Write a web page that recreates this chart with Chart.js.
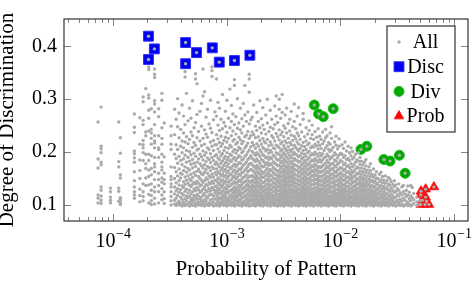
<!DOCTYPE html>
<html>
<head>
<meta charset="utf-8">
<script src="https://cdn.jsdelivr.net/npm/chart.js@4.4.1/dist/chart.umd.min.js"></script>
<style>
  html, body { margin: 0; padding: 0; background: #fff; }
  #wrap { width: 476px; height: 284px; }
</style>
</head>
<body>
<div id="wrap"><canvas id="chart" width="476" height="284"></canvas></div>
<script>
// ticks
const xTickExps = [-4, -3, -2, -1];
const yTicks = [0.1, 0.2, 0.3, 0.4];

// selected patterns
const discP = [2.05e-4, 2.31e-4, 2.05e-4, 4.35e-4, 4.35e-4, 5.43e-4, 7.47e-4, 8.6e-4, 1.17e-3, 1.6e-3];
const discD = [0.419, 0.395, 0.375, 0.407, 0.367, 0.388, 0.397, 0.370, 0.373, 0.383];
const divP = [5.9e-3, 6.44e-3, 7.08e-3, 8.66e-3, 1.518e-2, 1.712e-2, 2.415e-2, 2.742e-2, 3.31e-2, 3.72e-2];
const divD = [0.289, 0.272, 0.267, 0.282, 0.205, 0.211, 0.186, 0.183, 0.194, 0.160];
const probP = [0.0513, 0.0564, 0.0510, 0.0564, 0.0527, 0.0575, 0.0510, 0.0556, 0.0603, 0.0667];
const probD = [0.126, 0.130, 0.119, 0.115, 0.109, 0.107, 0.101, 0.101, 0.101, 0.134];

// all patterns, read column by column: [probability, [degrees...]]
const allColumns = [
  [7.38e-5, [.104,.113,.119,.170,.187,.257]],
  [7.85e-5, [.103,.109,.117,.128,.134,.176,.181,.199,.206,.211,.285]],
  [9.49e-5, [.104,.109,.115,.125,.132]],
  [1.122e-4, [.107,.126,.132,.172,.182,.257]],
  [1.16e-4, [.101,.104,.109,.113,.114,.151,.157,.198,.227]],
  [1.54e-4, [.113,.119,.125,.134,.146,.163,.181,.189,.197,.202,.237,.247,.272]],
  [1.72e-4, [.106,.118,.130,.150,.165,.185,.215,.265]],
  [1.84e-4, [.108,.116,.125,.140,.184,.199,.208,.214,.222,.252,.260,.295,.304]],
  [1.94e-4, [.137,.151,.169,.178,.196,.231,.238,.320]],
  [2.06e-4, [.104,.120,.138,.154,.166,.184,.196,.240,.264,.279,.302,.308,.356,.361]],
  [2.17e-4, [.101,.108,.118,.128,.140,.157,.169,.193,.215,.226,.236,.243,.282]],
  [2.32e-4, [.102,.113,.125,.134,.148,.163,.172,.178,.190,.208,.217,.221,.231,.252,.276,.291,.297,.341,.347,.357]],
  [2.52e-4, [.104,.125,.137,.148,.160,.190,.205,.208,.231,.267,.282]],
  [2.69e-4, [.110,.119,.131,.143,.151,.166,.172,.181,.196,.215,.226,.246,.298,.311]],
  [2.82e-4, [.103,.112,.125,.140,.148,.160,.191,.255]],
  [3.24e-4, [.100,.108,.116,.125,.134,.140,.148,.154,.172,.205,.215,.231,.249]],
  [3.48e-4, [.102,.109,.121,.134,.150,.171,.196,.233,.281]],
  [3.59e-4, [.099,.113,.127,.142,.163,.188,.214,.262]],
  [3.70e-4, [.104,.118,.131,.155,.179,.205,.248,.301]],
  [3.81e-4, [.100,.107,.124,.138,.146,.168,.192,.227,.274]],
  [3.93e-4, [.103,.115,.129,.151,.160,.184,.211,.243]],
  [4.05e-4, [.098,.111,.122,.136,.158,.176,.199,.221,.289]],
  [4.17e-4, [.101,.106,.119,.133,.144,.165,.187,.208,.236,.268]],
  [4.30e-4, [.099,.112,.126,.139,.153,.172,.194,.219,.252,.342,.352]],
  [4.43e-4, [.102,.108,.117,.130,.147,.162,.181,.203,.229,.311]],
  [4.57e-4, [.100,.114,.123,.141,.155,.169,.190,.216,.259]],
  [4.71e-4, [.098,.105,.116,.128,.137,.149,.166,.183,.201,.224,.283]],
  [4.85e-4, [.103,.110,.121,.135,.146,.158,.177,.195,.238,.264]],
  [5.00e-4, [.099,.107,.113,.125,.139,.152,.170,.186,.209,.231,.297]],
  [5.16e-4, [.101,.109,.118,.131,.143,.161,.179,.198,.218,.246]],
  [5.32e-4, [.098,.104,.115,.127,.140,.156,.173,.192,.213,.256,.338,.348]],
  [5.48e-4, [.102,.111,.120,.133,.145,.164,.181,.204,.227,.271,.329]],
  [5.65e-4, [.100,.106,.117,.129,.141,.154,.168,.187,.206,.239]],
  [5.82e-4, [.103,.112,.124,.136,.150,.163,.178,.196,.221,.277]],
  [6.00e-4, [.099,.108,.115,.126,.138,.147,.159,.174,.191,.212,.249,.292]],
  [6.19e-4, [.101,.105,.119,.130,.143,.157,.170,.185,.202,.226,.306,.357]],
  [6.38e-4, [.098,.110,.122,.134,.146,.162,.176,.194,.215,.242,.314]],
  [6.58e-4, [.102,.107,.116,.128,.139,.151,.167,.182,.199,.234,.266]],
  [6.78e-4, [.100,.113,.125,.137,.148,.160,.173,.189,.208,.228,.281]],
  [6.99e-4, [.099,.104,.118,.131,.142,.155,.171,.186,.205,.253]],
  [7.20e-4, [.101,.109,.121,.127,.140,.152,.165,.180,.197,.219,.245,.298]],
  [7.42e-4, [.103,.111,.120,.133,.145,.158,.172,.190,.211,.237,.343,.354,.361]],
  [7.65e-4, [.098,.106,.117,.129,.141,.153,.169,.184,.203,.222,.261]],
  [7.89e-4, [.100,.112,.124,.135,.147,.161,.177,.193,.214,.276]],
  [8.13e-4, [.099,.103,.110,.119,.128,.136,.146,.157,.168,.181,.195,.214,.233,.268,.338]],
  [8.38e-4, [.101,.107,.115,.124,.132,.142,.151,.163,.176,.189,.206,.225,.251,.294]],
  [8.64e-4, [.098,.104,.112,.121,.129,.139,.149,.160,.172,.186,.200,.218,.241,.283]],
  [8.91e-4, [.100,.106,.114,.123,.134,.144,.155,.166,.179,.193,.211,.230,.262]],
  [9.18e-4, [.102,.109,.117,.126,.137,.147,.158,.170,.183,.197,.216,.244,.309]],
  [9.46e-4, [.099,.105,.113,.120,.131,.141,.153,.164,.175,.188,.203,.222,.256]],
  [9.75e-4, [.101,.108,.116,.125,.133,.145,.156,.167,.180,.192,.209,.228,.249,.277]],
  [1.005e-3, [.098,.103,.111,.122,.130,.138,.150,.161,.173,.185,.199,.219,.237,.298]],
  [1.036e-3, [.100,.107,.114,.124,.135,.143,.154,.165,.178,.190,.207,.226,.264]],
  [1.068e-3, [.102,.109,.118,.127,.136,.146,.159,.171,.184,.196,.213,.246,.319]],
  [1.10e-3, [.099,.104,.112,.119,.128,.139,.148,.157,.169,.182,.194,.210,.231,.258,.288]],
  [1.134e-3, [.101,.106,.115,.123,.131,.141,.152,.163,.174,.187,.201,.221,.240,.272]],
  [1.17e-3, [.098,.103,.110,.117,.126,.134,.144,.155,.166,.177,.190,.205,.224,.252,.326,.337]],
  [1.205e-3, [.100,.108,.114,.122,.130,.140,.150,.160,.172,.184,.198,.215,.234,.267]],
  [1.243e-3, [.102,.107,.116,.125,.133,.143,.153,.164,.176,.189,.203,.218,.245,.301]],
  [1.281e-3, [.099,.105,.111,.120,.129,.137,.147,.158,.168,.180,.193,.209,.228,.255]],
  [1.32e-3, [.101,.109,.118,.124,.135,.145,.156,.167,.179,.191,.206,.223,.242,.283]],
  [1.36e-3, [.098,.104,.113,.121,.130,.139,.149,.161,.171,.185,.199,.216,.236,.263]],
  [1.40e-3, [.100,.106,.115,.123,.132,.142,.152,.162,.175,.187,.202,.220,.249,.292]],
  [1.445e-3, [.102,.108,.117,.126,.134,.144,.154,.166,.178,.192,.208,.229,.270,.326]],
  [1.49e-3, [.099,.103,.112,.119,.128,.137,.146,.157,.169,.181,.195,.212,.232,.258]],
  [1.535e-3, [.101,.107,.114,.122,.131,.140,.151,.163,.173,.186,.200,.217,.239,.276]],
  [1.58e-3, [.098,.105,.111,.120,.127,.136,.145,.155,.165,.177,.189,.204,.226,.253,.313,.338,.347]],
  [1.63e-3, [.100,.108,.116,.125,.133,.143,.154,.167,.179,.193,.210,.231,.261]],
  [1.68e-3, [.099,.102,.109,.115,.122,.130,.138,.147,.156,.166,.176,.188,.201,.218,.238,.266]],
  [1.73e-3, [.101,.106,.112,.119,.127,.135,.144,.153,.163,.173,.185,.198,.213,.233,.289]],
  [1.79e-3, [.098,.104,.110,.117,.124,.132,.141,.150,.159,.170,.182,.194,.207,.227,.249]],
  [1.84e-3, [.100,.107,.113,.121,.128,.137,.146,.155,.165,.175,.187,.199,.216,.241,.275]],
  [1.90e-3, [.102,.105,.111,.118,.126,.134,.142,.151,.161,.171,.183,.196,.211,.229,.258]],
  [1.96e-3, [.099,.103,.109,.116,.123,.131,.139,.149,.158,.168,.179,.192,.204,.222,.246,.297]],
  [2.02e-3, [.101,.108,.114,.120,.129,.136,.145,.154,.164,.174,.186,.200,.215,.236,.263]],
  [2.08e-3, [.098,.104,.110,.117,.125,.133,.142,.152,.160,.172,.184,.195,.209,.226,.251,.284]],
  [2.14e-3, [.100,.106,.112,.119,.127,.135,.143,.153,.162,.173,.181,.193,.206,.220,.243]],
  [2.21e-3, [.102,.107,.115,.122,.130,.138,.147,.156,.166,.177,.189,.202,.217,.234,.270]],
  [2.28e-3, [.099,.103,.111,.118,.124,.132,.140,.149,.159,.169,.180,.191,.205,.224,.255,.300]],
  [2.35e-3, [.101,.105,.113,.120,.128,.136,.145,.154,.163,.175,.186,.198,.212,.239]],
  [2.42e-3, [.098,.104,.109,.116,.123,.131,.139,.148,.157,.167,.178,.190,.203,.219,.247,.279]],
  [2.49e-3, [.100,.107,.114,.121,.129,.137,.146,.155,.165,.176,.188,.200,.214,.231,.262]],
  [2.57e-3, [.102,.106,.112,.118,.126,.134,.142,.151,.161,.171,.182,.194,.208,.227,.244]],
  [2.65e-3, [.099,.103,.110,.117,.125,.133,.141,.150,.158,.168,.179,.192,.206,.221,.252,.287]],
  [2.73e-3, [.101,.108,.115,.122,.130,.138,.147,.157,.166,.177,.187,.199,.213,.235,.268,.306]],
  [2.81e-3, [.098,.104,.111,.119,.127,.135,.144,.153,.163,.174,.185,.197,.211,.229,.256]],
  [2.90e-3, [.100,.103,.108,.114,.120,.127,.134,.141,.149,.157,.166,.175,.185,.196,.208,.223,.242,.281,.300]],
  [2.99e-3, [.099,.105,.111,.117,.123,.130,.137,.145,.153,.161,.170,.180,.190,.202,.216,.233,.264]],
  [3.08e-3, [.101,.106,.112,.118,.125,.132,.139,.147,.155,.164,.173,.183,.194,.205,.219,.238,.275,.309]],
  [3.18e-3, [.098,.104,.109,.115,.121,.128,.136,.143,.151,.160,.168,.178,.188,.199,.212,.229,.250]],
  [3.27e-3, [.100,.107,.113,.119,.126,.133,.140,.148,.156,.165,.174,.184,.195,.207,.221,.245,.270]],
  [3.37e-3, [.102,.105,.110,.116,.122,.129,.137,.144,.152,.162,.171,.181,.191,.203,.217,.236,.283]],
  [3.48e-3, [.099,.103,.108,.114,.121,.127,.135,.142,.150,.158,.167,.176,.187,.198,.210,.226,.254]],
  [3.59e-3, [.101,.106,.112,.118,.124,.131,.138,.146,.154,.163,.172,.182,.193,.204,.218,.240,.262]],
  [3.70e-3, [.098,.104,.109,.115,.122,.129,.136,.144,.152,.160,.169,.179,.189,.201,.214,.232,.277]],
  [3.81e-3, [.100,.107,.111,.117,.124,.130,.139,.147,.155,.164,.173,.183,.195,.206,.222,.248]],
  [3.93e-3, [.102,.105,.110,.116,.123,.128,.135,.143,.151,.159,.168,.177,.188,.199,.213,.230,.258,.291]],
  [4.05e-3, [.099,.103,.108,.114,.120,.127,.134,.141,.149,.157,.166,.175,.185,.196,.209,.225,.244]],
  [4.17e-3, [.101,.106,.112,.118,.125,.132,.140,.148,.156,.165,.174,.184,.194,.205,.219,.236,.268]],
  [4.30e-3, [.098,.104,.109,.115,.121,.129,.137,.145,.153,.161,.170,.181,.191,.202,.215,.231,.284]],
  [4.43e-3, [.100,.105,.111,.117,.123,.130,.138,.146,.154,.163,.172,.182,.193,.207,.224,.252]],
  [4.57e-3, [.102,.107,.113,.119,.126,.133,.141,.149,.158,.167,.176,.187,.198,.212,.238]],
  [4.71e-3, [.099,.103,.108,.114,.121,.128,.135,.143,.151,.160,.169,.179,.190,.203,.218,.262,.273]],
  [4.85e-3, [.101,.106,.112,.118,.124,.131,.139,.147,.155,.164,.174,.184,.196,.210,.229]],
  [5.00e-3, [.098,.104,.110,.116,.122,.129,.136,.144,.152,.161,.170,.180,.192,.205,.221,.246]],
  [5.16e-3, [.100,.105,.111,.117,.125,.132,.140,.148,.157,.166,.175,.186,.199,.214,.234]],
  [5.32e-3, [.102,.107,.113,.120,.127,.134,.142,.150,.159,.168,.178,.189,.201,.217,.241,.259]],
  [5.48e-3, [.099,.103,.109,.115,.122,.129,.137,.145,.153,.162,.171,.182,.194,.208,.226]],
  [5.65e-3, [.101,.106,.112,.118,.124,.131,.139,.147,.156,.165,.175,.185,.197,.211,.233,.251]],
  [5.82e-3, [.098,.104,.110,.116,.123,.130,.138,.146,.154,.163,.172,.183,.195,.209,.224]],
  [6.00e-3, [.100,.105,.111,.119,.126,.133,.141,.149,.158,.167,.177,.188,.200,.215,.239]],
  [6.19e-3, [.102,.107,.113,.117,.124,.132,.140,.148,.156,.165,.174,.184,.196,.212,.228]],
  [6.38e-3, [.099,.103,.108,.115,.121,.128,.136,.144,.152,.161,.170,.181,.192,.206,.219,.244]],
  [6.58e-3, [.101,.106,.112,.118,.125,.131,.139,.147,.155,.164,.173,.186,.198,.213,.230]],
  [6.78e-3, [.098,.104,.109,.116,.122,.129,.137,.145,.153,.162,.171,.181,.193,.207,.224]],
  [6.99e-3, [.100,.105,.111,.117,.124,.131,.138,.146,.155,.164,.174,.185,.197,.216,.238]],
  [7.20e-3, [.102,.107,.113,.119,.126,.133,.141,.149,.157,.166,.176,.189,.203,.221]],
  [7.42e-3, [.099,.103,.108,.115,.121,.128,.135,.143,.151,.160,.169,.179,.191,.208,.227,.243]],
  [7.65e-3, [.101,.106,.112,.118,.124,.130,.138,.146,.154,.163,.173,.184,.196,.212,.231]],
  [7.89e-3, [.098,.104,.110,.116,.123,.129,.136,.144,.152,.161,.170,.180,.192,.205,.218]],
  [8.13e-3, [.100,.105,.111,.117,.125,.132,.140,.148,.156,.165,.175,.187,.201,.215,.236]],
  [8.38e-3, [.102,.107,.113,.119,.126,.134,.142,.150,.158,.168,.178,.190,.204,.226,.248]],
  [8.64e-3, [.099,.103,.108,.114,.121,.127,.135,.143,.151,.159,.169,.179,.193,.209]],
  [8.91e-3, [.101,.106,.112,.118,.124,.131,.139,.146,.155,.164,.174,.185,.199,.219]],
  [9.18e-3, [.098,.104,.110,.116,.122,.129,.137,.145,.153,.162,.172,.183,.195,.213,.230]],
  [9.46e-3, [.100,.105,.111,.117,.123,.130,.138,.147,.156,.166,.177,.189,.206]],
  [9.75e-3, [.102,.107,.113,.119,.126,.133,.141,.149,.158,.168,.180,.194,.211,.225]],
  [1.005e-2, [.099,.103,.109,.115,.121,.128,.136,.144,.152,.161,.171,.184,.198]],
  [1.036e-2, [.101,.106,.112,.118,.125,.132,.140,.149,.158,.169,.182,.196,.214]],
  [1.068e-2, [.098,.104,.110,.116,.122,.129,.137,.146,.155,.165,.176,.190,.207]],
  [1.10e-2, [.100,.105,.111,.117,.124,.131,.139,.148,.157,.167,.179,.193,.219]],
  [1.134e-2, [.102,.107,.113,.119,.126,.134,.143,.152,.162,.173,.186,.202]],
  [1.17e-2, [.099,.103,.108,.114,.121,.127,.135,.144,.153,.163,.175,.188,.211]],
  [1.205e-2, [.101,.106,.112,.118,.124,.131,.140,.150,.160,.171,.184,.199]],
  [1.243e-2, [.098,.104,.110,.116,.123,.130,.138,.147,.156,.166,.178,.193,.208]],
  [1.281e-2, [.100,.105,.111,.117,.125,.133,.142,.151,.161,.172,.187,.201]],
  [1.32e-2, [.102,.107,.113,.120,.127,.135,.144,.154,.164,.176,.190]],
  [1.36e-2, [.099,.103,.109,.115,.122,.129,.137,.146,.156,.168,.181,.196]],
  [1.40e-2, [.101,.106,.112,.118,.125,.132,.141,.150,.160,.172,.185]],
  [1.445e-2, [.098,.104,.110,.116,.123,.131,.139,.148,.159,.170,.183,.199]],
  [1.49e-2, [.100,.105,.111,.118,.126,.134,.143,.153,.164,.177,.190]],
  [1.535e-2, [.102,.107,.114,.121,.129,.138,.148,.158,.170,.183]],
  [1.58e-2, [.099,.104,.110,.117,.125,.133,.142,.152,.163,.176]],
  [1.63e-2, [.101,.106,.113,.120,.128,.137,.147,.157,.168,.181]],
  [1.68e-2, [.098,.103,.109,.116,.124,.132,.141,.151,.162,.174,.186]],
  [1.73e-2, [.100,.105,.112,.119,.127,.136,.145,.155,.166]],
  [1.79e-2, [.102,.107,.114,.122,.130,.139,.149,.160,.172]],
  [1.84e-2, [.099,.104,.110,.117,.125,.134,.144,.154,.165,.178]],
  [1.90e-2, [.101,.106,.113,.120,.128,.137,.147,.158]],
  [1.96e-2, [.098,.103,.109,.116,.124,.133,.143,.153,.168]],
  [2.02e-2, [.100,.105,.112,.119,.127,.136,.146,.157]],
  [2.08e-2, [.102,.107,.114,.122,.131,.141,.151,.163]],
  [2.14e-2, [.099,.104,.111,.119,.128,.138,.150]],
  [2.21e-2, [.101,.106,.114,.123,.133,.144,.158]],
  [2.28e-2, [.098,.103,.110,.118,.127,.137,.148,.162]],
  [2.35e-2, [.100,.105,.113,.121,.131,.142,.154]],
  [2.42e-2, [.102,.108,.116,.125,.135,.147]],
  [2.49e-2, [.099,.104,.111,.120,.130,.141,.155]],
  [2.57e-2, [.101,.106,.114,.123,.134,.146]],
  [2.65e-2, [.098,.103,.110,.119,.129,.140,.152]],
  [2.73e-2, [.100,.107,.116,.126,.137,.149]],
  [2.81e-2, [.102,.105,.112,.121,.132,.144]],
  [2.90e-2, [.099,.108,.117,.128,.139]],
  [2.99e-2, [.101,.104,.113,.124,.135,.146]],
  [3.08e-2, [.098,.106,.115,.126,.138]],
  [3.18e-2, [.100,.109,.120,.131]],
  [3.27e-2, [.102,.105,.117,.128,.140]],
  [3.37e-2, [.099,.111,.123]],
  [3.48e-2, [.101,.107,.119,.134]],
  [3.59e-2, [.098,.113,.125,.137]],
  [3.70e-2, [.100,.109,.121]],
  [3.81e-2, [.102,.116,.128]],
  [3.93e-2, [.099,.106,.119,.136]],
  [4.05e-2, [.101,.112,.124]],
  [4.17e-2, [.098,.108,.117,.137]],
  [4.30e-2, [.100,.114,.133]],
  [4.43e-2, [.103,.110,.122]],
  [4.71e-2, [.099,.106,.115]],
  [5.00e-2, [.101,.108]]
];

const SERIF = '"Liberation Serif", "Times New Roman", serif';

function toPoints(ps, ds) {
  return ps.map((p, i) => ({ x: p, y: ds[i] }));
}

let allData = [];
allColumns.forEach(col => {
  col[1].forEach(d => allData.push({ x: col[0], y: d }));
});
// the selected patterns are part of "All" too
allData = allData.concat(toPoints(discP, discD), toPoints(divP, divD), toPoints(probP, probD));

// inward ticks, frame box, superscript x labels and the legend box
const axisDecor = {
  id: 'axisDecor',
  beforeDatasetsDraw(chart) {
    const { ctx, chartArea: a, scales: { x, y } } = chart;
    ctx.save();
    ctx.strokeStyle = '#666';
    ctx.lineWidth = 0.8;
    ctx.beginPath();
    for (let e = -5; e <= -1; e++) {
      for (let k = 1; k <= 9; k++) {
        const v = k * Math.pow(10, e);
        if (v < x.min || v > x.max) continue;
        const px = Math.round(x.getPixelForValue(v)) + 0.5;
        const len = k === 1 ? 7 : 4;
        ctx.moveTo(px, a.bottom); ctx.lineTo(px, a.bottom - len);
        ctx.moveTo(px, a.top); ctx.lineTo(px, a.top + len);
      }
    }
    yTicks.forEach(v => {
      const py = Math.round(y.getPixelForValue(v)) + 0.5;
      ctx.moveTo(a.left, py); ctx.lineTo(a.left + 7, py);
      ctx.moveTo(a.right, py); ctx.lineTo(a.right - 7, py);
    });
    ctx.stroke();
    ctx.restore();
  },
  afterDatasetsDraw(chart) {
    const { ctx, chartArea: a, scales: { x } } = chart;
    ctx.save();
    ctx.strokeStyle = '#333';
    ctx.lineWidth = 1.2;
    ctx.strokeRect(a.left, a.top, a.right - a.left, a.bottom - a.top);

    // x tick labels 10^n
    ctx.fillStyle = '#000';
    ctx.textBaseline = 'alphabetic';
    ctx.textAlign = 'left';
    xTickExps.forEach(e => {
      const px = x.getPixelForValue(Math.pow(10, e));
      ctx.font = '20px ' + SERIF;
      const wBase = ctx.measureText('10').width;
      const sup = '\u2212' + Math.abs(e);
      ctx.font = '14px ' + SERIF;
      const wSup = ctx.measureText(sup).width;
      const left = px - (wBase + wSup) / 2;
      ctx.font = '20px ' + SERIF;
      ctx.fillText('10', left, a.bottom + 26);
      ctx.font = '14px ' + SERIF;
      ctx.fillText(sup, left + wBase + 0.5, a.bottom + 17);
    });

    // legend
    const bx = a.right - 81, by = a.top + 7, bw = 68, bh = 106;
    ctx.fillStyle = '#fff';
    ctx.fillRect(bx, by, bw, bh);
    ctx.strokeStyle = '#333';
    ctx.lineWidth = 1.2;
    ctx.strokeRect(bx, by, bw, bh);
    ctx.font = '20px ' + SERIF;
    ctx.textAlign = 'center';
    ctx.textBaseline = 'middle';
    chart.data.datasets.forEach((ds, i) => {
      const iy = by + 16 + i * 24.7;
      ctx.fillStyle = ds.backgroundColor;
      ctx.strokeStyle = ds.borderColor || ds.backgroundColor;
      ctx.lineWidth = ds.borderWidth || 0;
      Chart.helpers.drawPoint(ctx, {
        pointStyle: ds.pointStyle, radius: ds.pointRadius,
        rotation: 0, borderWidth: ds.borderWidth || 0
      }, bx + 12, iy);
      ctx.fillStyle = '#000';
      ctx.fillText(ds.label, bx + 38.5, iy + 1);
    });
    ctx.restore();
  }
};

new Chart(document.getElementById('chart'), {
  type: 'scatter',
  data: {
    datasets: [
      { label: 'All', data: allData, pointStyle: 'circle', pointRadius: 1.7,
        backgroundColor: '#aaaaaa', borderWidth: 0 },
      { label: 'Disc', data: toPoints(discP, discD), pointStyle: 'rect', pointRadius: 7,
        backgroundColor: '#0000f0', borderColor: '#3030ff', borderWidth: 1 },
      { label: 'Div', data: toPoints(divP, divD), pointStyle: 'circle', pointRadius: 5,
        backgroundColor: '#00a800', borderColor: '#28bb28', borderWidth: 1 },
      { label: 'Prob', data: toPoints(probP, probD), pointStyle: 'triangle', pointRadius: 5.5,
        backgroundColor: '#ff0000', borderColor: '#ff2020', borderWidth: 1 }
    ]
  },
  options: {
    responsive: false,
    animation: false,
    events: [],
    layout: { padding: { left: 0, right: 7, top: 6, bottom: 0 } },
    plugins: { legend: { display: false }, tooltip: { enabled: false } },
    scales: {
      x: {
        type: 'logarithmic', min: 3.7e-5, max: 0.133,
        ticks: { display: false },
        grid: { display: false, drawTicks: false },
        border: { display: false },
        title: { display: true, text: 'Probability of Pattern', color: '#000',
          font: { family: SERIF, size: 21, lineHeight: 1.2 }, padding: { top: 0, bottom: 2 } },
        afterFit: s => { s.height = 63; }
      },
      y: {
        min: 0.0698, max: 0.4515,
        afterBuildTicks: s => { s.ticks = yTicks.map(v => ({ value: v })); },
        ticks: { callback: v => v.toFixed(1), color: '#000', padding: 7,
          font: { family: SERIF, size: 20 } },
        grid: { display: false, drawTicks: false },
        border: { display: false },
        title: { display: true, text: 'Degree of Discrimination', color: '#000',
          font: { family: SERIF, size: 21, lineHeight: 0.76 }, padding: 0 },
        afterFit: s => { s.width = 64; }
      }
    }
  },
  plugins: [axisDecor]
});
</script>
</body>
</html>
